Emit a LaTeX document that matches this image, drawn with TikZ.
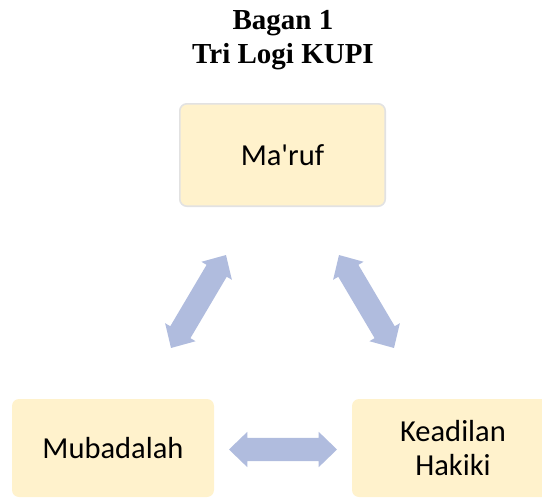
\documentclass[tikz,border=0pt]{standalone}
\usepackage{fontspec}
\setmainfont{Liberation Serif}
\newfontfamily\boxfont{Carlito}
\usetikzlibrary{shapes.arrows}
\definecolor{boxfill}{HTML}{FFF2CC}
\definecolor{boxline}{HTML}{E2E2E2}
\definecolor{arrowfill}{RGB}{176,188,222}
\begin{document}
\begin{tikzpicture}[x=1pt,y=-1pt,
  box/.style={fill=boxfill, rounded corners=7pt, minimum width=202pt, minimum height=98pt, inner sep=0pt, font=\boxfont\fontsize{30.5}{33.5}\selectfont, align=center, text=black},
  topbox/.style={box, draw=boxline, line width=1.6pt, minimum width=205.4pt, minimum height=102.4pt},
  darrow/.style={double arrow, fill=arrowfill, draw=none, minimum height=108pt, inner xsep=0pt, inner ysep=11.5pt, double arrow head extend=6pt, double arrow tip angle=88},
  title/.style={font=\bfseries\fontsize{29}{34}\selectfont, anchor=base}]
\clip (0,0) rectangle (542,498);
\node[title] (t1) at (283,29) {Bagan 1};
\node[title] (t2) at (283,63) {Tri Logi KUPI};
\node[topbox] (maruf) at (282.5,155) {Ma'ruf};
\node[box] (muba) at (113,448) {Mubadalah};
\node[box] (keadilan) at (453,448) {Keadilan\\Hakiki};
\node[darrow, rotate=59.4] (a1) at (198.5,301.5) {};
\node[darrow, rotate=-59.4] (a2) at (366.5,301.5) {};
\node[darrow] (a3) at (283,449.5) {};
\end{tikzpicture}
\end{document}
